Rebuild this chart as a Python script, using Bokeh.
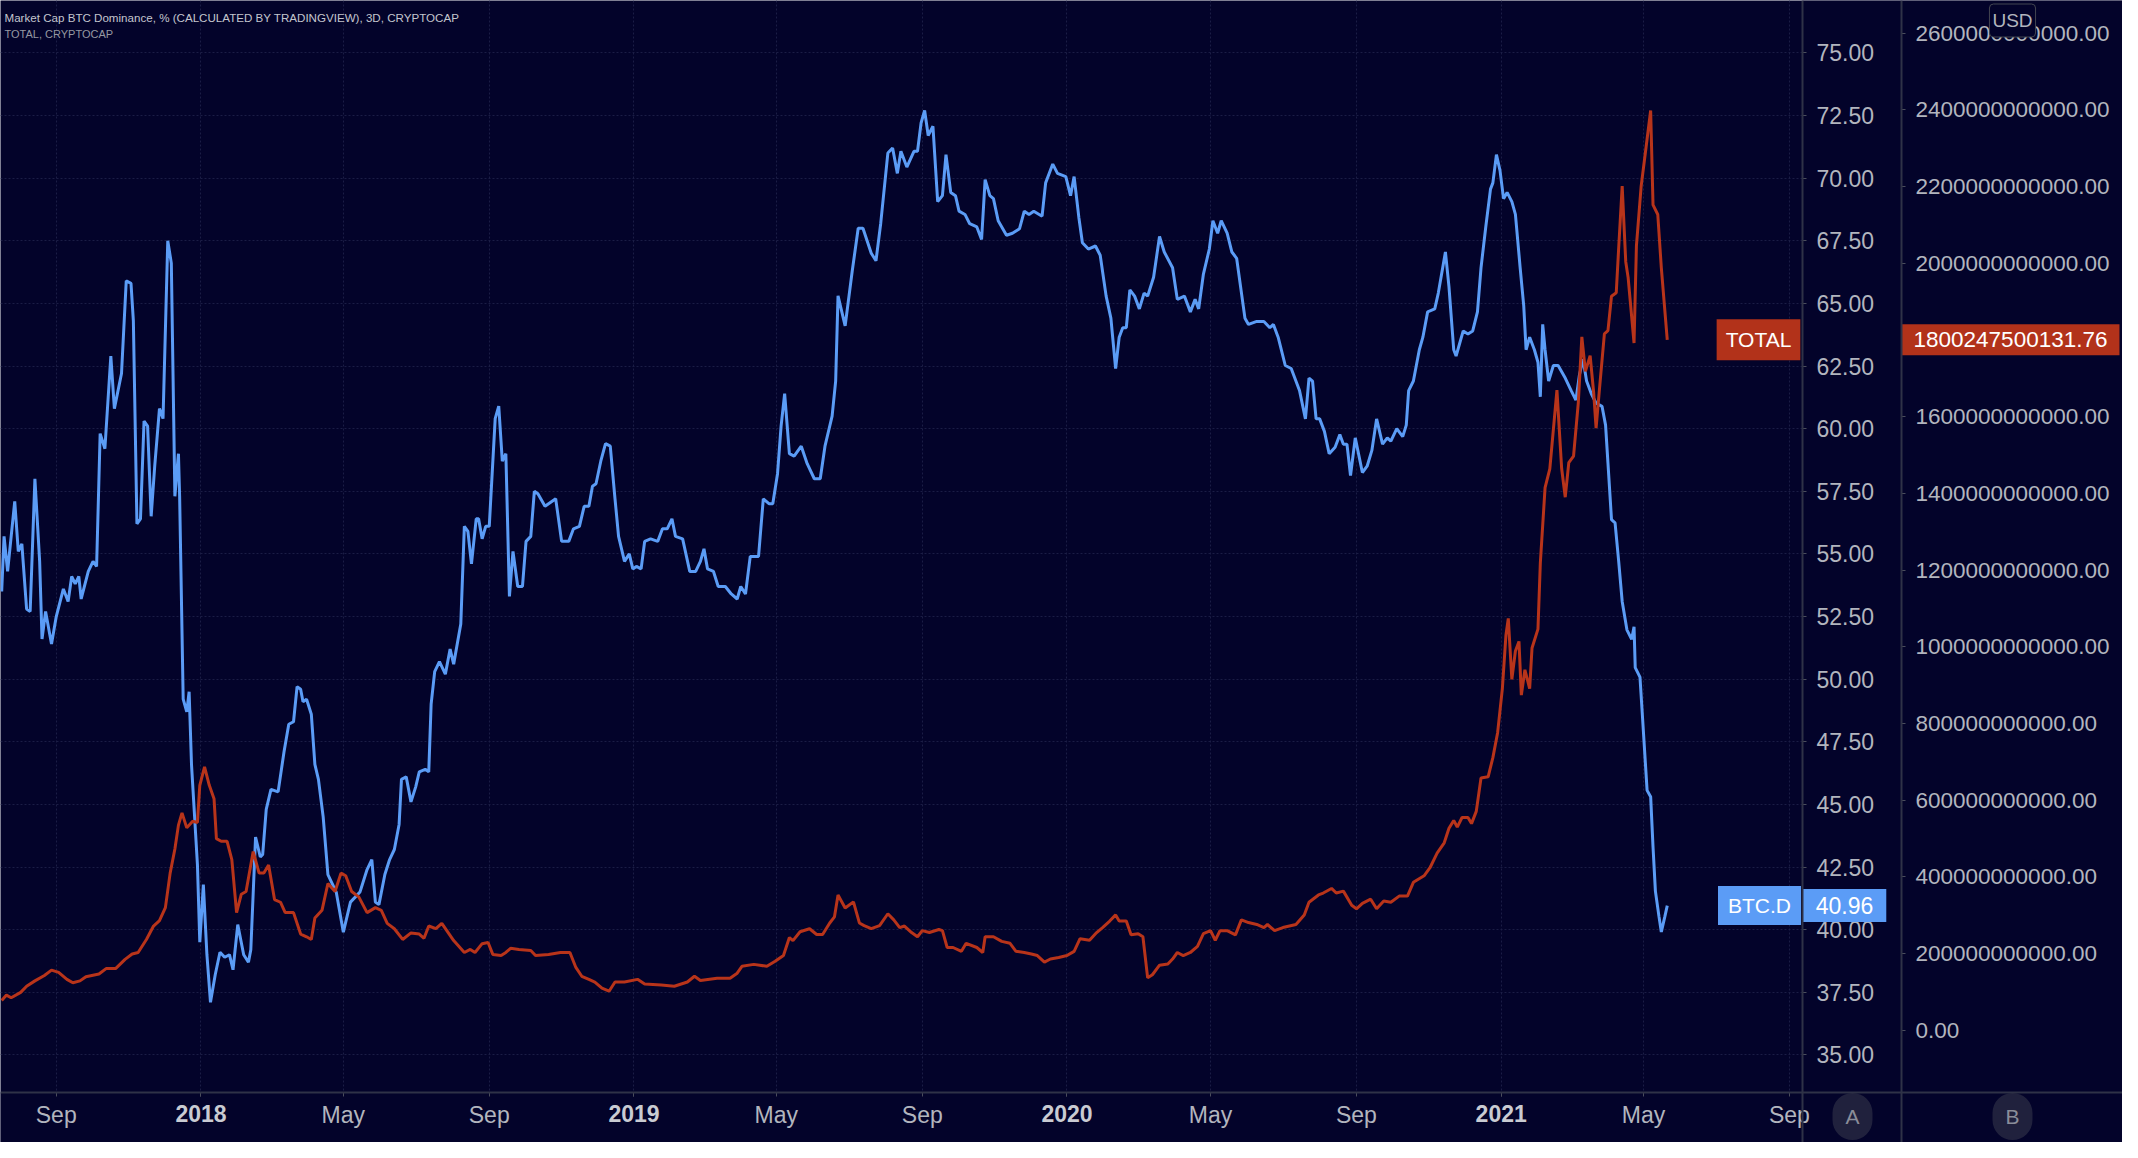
import pandas as pd
from bokeh.plotting import figure
from bokeh.models import (ColumnDataSource, Range1d, LinearAxis, DatetimeAxis, MonthsTicker, Span,
                          BoxAnnotation, SingleIntervalTicker, CustomJSTickFormatter, Label)
from bokeh.embed import file_html
from bokeh.resources import INLINE

# ---------------- data ----------------
TITLE_1 = "Market Cap BTC Dominance, % (CALCULATED BY TRADINGVIEW), 3D, CRYPTOCAP"
TITLE_2 = "TOTAL, CRYPTOCAP"
MONTH_LABELS = ["", "Feb", "Mar", "Apr", "May", "Jun",
                "Jul", "Aug", "Sep", "Oct", "Nov", "Dec"]

btc_dates = [
    "2017-07-17", "2017-07-19", "2017-07-22", "2017-07-28", "2017-07-31", "2017-08-03", "2017-08-07",
    "2017-08-10", "2017-08-14", "2017-08-18", "2017-08-20", "2017-08-23", "2017-08-28", "2017-09-01",
    "2017-09-07", "2017-09-11", "2017-09-14", "2017-09-17", "2017-09-20", "2017-09-22", "2017-09-28",
    "2017-10-02", "2017-10-05", "2017-10-08", "2017-10-12", "2017-10-17", "2017-10-20", "2017-10-26",
    "2017-10-30", "2017-11-03", "2017-11-05", "2017-11-08", "2017-11-11", "2017-11-14", "2017-11-17",
    "2017-11-20", "2017-11-23", "2017-11-27", "2017-11-30", "2017-12-04", "2017-12-07", "2017-12-10",
    "2017-12-13", "2017-12-14", "2017-12-17", "2017-12-20", "2017-12-22", "2017-12-24", "2017-12-29",
    "2017-12-31", "2018-01-03", "2018-01-06", "2018-01-09", "2018-01-13", "2018-01-17", "2018-01-21",
    "2018-01-25", "2018-01-28", "2018-02-01", "2018-02-06", "2018-02-10", "2018-02-12", "2018-02-16",
    "2018-02-20", "2018-02-22", "2018-02-25", "2018-03-01", "2018-03-07", "2018-03-12", "2018-03-16",
    "2018-03-20", "2018-03-23", "2018-03-26", "2018-03-28", "2018-03-31", "2018-04-04", "2018-04-07",
    "2018-04-10", "2018-04-14", "2018-04-18", "2018-04-21", "2018-04-25", "2018-05-01", "2018-05-07",
    "2018-05-11", "2018-05-15", "2018-05-21", "2018-05-25", "2018-05-28", "2018-05-31", "2018-06-05",
    "2018-06-09", "2018-06-13", "2018-06-17", "2018-06-19", "2018-06-23", "2018-06-27", "2018-07-01",
    "2018-07-04", "2018-07-09", "2018-07-12", "2018-07-14", "2018-07-17", "2018-07-21", "2018-07-26",
    "2018-07-30", "2018-08-02", "2018-08-08", "2018-08-11", "2018-08-14", "2018-08-17", "2018-08-21",
    "2018-08-23", "2018-08-26", "2018-08-29", "2018-09-01", "2018-09-06", "2018-09-09", "2018-09-12",
    "2018-09-15", "2018-09-18", "2018-09-21", "2018-09-25", "2018-09-29", "2018-10-02", "2018-10-06",
    "2018-10-09", "2018-10-12", "2018-10-18", "2018-10-27", "2018-11-01", "2018-11-07", "2018-11-11",
    "2018-11-16", "2018-11-20", "2018-11-24", "2018-11-27", "2018-11-30", "2018-12-04", "2018-12-08",
    "2018-12-12", "2018-12-16", "2018-12-19", "2018-12-24", "2018-12-28", "2018-12-31", "2019-01-03",
    "2019-01-07", "2019-01-10", "2019-01-15", "2019-01-21", "2019-01-25", "2019-01-29", "2019-02-02",
    "2019-02-05", "2019-02-11", "2019-02-17", "2019-02-22", "2019-02-26", "2019-03-01", "2019-03-04",
    "2019-03-09", "2019-03-13", "2019-03-19", "2019-03-24", "2019-03-29", "2019-04-01", "2019-04-05",
    "2019-04-09", "2019-04-16", "2019-04-20", "2019-04-25", "2019-04-28", "2019-05-02", "2019-05-05",
    "2019-05-08", "2019-05-12", "2019-05-16", "2019-05-22", "2019-05-27", "2019-06-02", "2019-06-07",
    "2019-06-11", "2019-06-17", "2019-06-20", "2019-06-22", "2019-06-28", "2019-07-04", "2019-07-09",
    "2019-07-13", "2019-07-20", "2019-07-24", "2019-07-28", "2019-08-03", "2019-08-07", "2019-08-11",
    "2019-08-14", "2019-08-19", "2019-08-25", "2019-08-28", "2019-08-31", "2019-09-03", "2019-09-06",
    "2019-09-10", "2019-09-14", "2019-09-18", "2019-09-21", "2019-09-25", "2019-09-29", "2019-10-02",
    "2019-10-07", "2019-10-11", "2019-10-17", "2019-10-21", "2019-10-24", "2019-10-28", "2019-10-31",
    "2019-11-04", "2019-11-11", "2019-11-16", "2019-11-22", "2019-11-26", "2019-11-30", "2019-12-04",
    "2019-12-11", "2019-12-14", "2019-12-20", "2019-12-24", "2019-12-31", "2020-01-04", "2020-01-07",
    "2020-01-11", "2020-01-14", "2020-01-19", "2020-01-25", "2020-01-29", "2020-02-03", "2020-02-07",
    "2020-02-11", "2020-02-14", "2020-02-17", "2020-02-20", "2020-02-23", "2020-02-27", "2020-03-02",
    "2020-03-06", "2020-03-09", "2020-03-14", "2020-03-19", "2020-03-23", "2020-03-30", "2020-04-03",
    "2020-04-09", "2020-04-14", "2020-04-18", "2020-04-21", "2020-04-25", "2020-04-30", "2020-05-03",
    "2020-05-07", "2020-05-10", "2020-05-15", "2020-05-19", "2020-05-23", "2020-05-30", "2020-06-02",
    "2020-06-09", "2020-06-15", "2020-06-20", "2020-06-23", "2020-06-27", "2020-07-03", "2020-07-08",
    "2020-07-15", "2020-07-20", "2020-07-23", "2020-07-26", "2020-07-29", "2020-08-01", "2020-08-05",
    "2020-08-09", "2020-08-14", "2020-08-18", "2020-08-21", "2020-08-24", "2020-08-27", "2020-08-31",
    "2020-09-06", "2020-09-10", "2020-09-14", "2020-09-18", "2020-09-23", "2020-09-27", "2020-09-30",
    "2020-10-05", "2020-10-10", "2020-10-13", "2020-10-15", "2020-10-19", "2020-10-24", "2020-10-27",
    "2020-10-31", "2020-11-06", "2020-11-09", "2020-11-15", "2020-11-18", "2020-11-22", "2020-11-24",
    "2020-11-30", "2020-12-04", "2020-12-08", "2020-12-12", "2020-12-15", "2020-12-19", "2020-12-23",
    "2020-12-25", "2020-12-28", "2020-12-31", "2021-01-03", "2021-01-06", "2021-01-10", "2021-01-13",
    "2021-01-17", "2021-01-20", "2021-01-22", "2021-01-25", "2021-01-29", "2021-02-01", "2021-02-03",
    "2021-02-05", "2021-02-07", "2021-02-10", "2021-02-14", "2021-02-18", "2021-02-24", "2021-03-01",
    "2021-03-05", "2021-03-08", "2021-03-11", "2021-03-14", "2021-03-18", "2021-03-22", "2021-03-27",
    "2021-03-30", "2021-04-01", "2021-04-04", "2021-04-07", "2021-04-10", "2021-04-13", "2021-04-17",
    "2021-04-21", "2021-04-23", "2021-04-24", "2021-04-28", "2021-04-30", "2021-05-04", "2021-05-07",
    "2021-05-09", "2021-05-11", "2021-05-14", "2021-05-16", "2021-05-19", "2021-05-21",
]
btc_values = [
    53.5, 55.7, 54.3, 57.1, 55.1, 55.4, 52.8,
    52.7, 58.0, 54.7, 51.6, 52.7, 51.4, 52.5,
    53.6, 53.1, 54.1, 53.8, 54.1, 53.2, 54.3,
    54.7, 54.5, 59.8, 59.2, 62.9, 60.8, 62.2,
    65.9, 65.8, 64.3, 56.2, 56.4, 60.3, 60.1,
    56.5, 58.5, 60.8, 60.4, 67.5, 66.6, 57.3,
    59.0, 57.3, 49.2, 48.7, 49.5, 46.6, 42.6,
    39.5, 41.8, 39.0, 37.1, 38.2, 39.1, 38.9,
    39.0, 38.4, 40.2, 39.0, 38.7, 39.2, 43.7,
    42.9, 43.0, 44.8, 45.6, 45.5, 47.1, 48.2,
    48.3, 49.7, 49.6, 49.1, 49.2, 48.6, 46.6,
    46.0, 44.5, 42.2, 41.9, 41.5, 39.9, 41.1,
    41.3, 41.5, 42.4, 42.8, 41.1, 41.0, 42.2,
    42.8, 43.2, 44.2, 46.0, 46.1, 45.1, 45.7,
    46.3, 46.4, 46.3, 49.0, 50.3, 50.7, 50.2,
    51.2, 50.6, 52.2, 56.1, 55.9, 54.6, 56.4,
    56.4, 55.6, 56.1, 56.1, 60.4, 60.9, 58.7,
    59.0, 53.3, 55.1, 53.7, 53.7, 55.5, 55.7,
    57.5, 57.4, 56.9, 57.2, 55.5, 55.5, 56.0,
    56.1, 56.9, 56.9, 57.7, 57.8, 58.7, 59.4,
    59.3, 57.2, 55.7, 54.7, 55.0, 54.4, 54.5,
    54.4, 55.5, 55.6, 55.5, 56.0, 56.0, 56.4,
    55.7, 55.6, 54.3, 54.3, 54.7, 55.2, 54.4,
    54.3, 53.7, 53.7, 53.4, 53.2, 53.7, 53.4,
    54.9, 54.9, 57.2, 57.0, 57.0, 58.2, 60.1,
    61.4, 59.0, 58.9, 59.3, 58.6, 58.0, 58.0,
    59.3, 60.5, 61.9, 65.3, 64.1, 66.3, 68.0,
    68.0, 67.0, 66.7, 68.2, 71.0, 71.2, 70.19,
    71.07, 70.44, 71.07, 71.07, 72.2, 72.7, 71.7,
    72.07, 69.06, 69.3, 70.94, 69.43, 69.3, 68.68,
    68.55, 68.18, 68.05, 67.55, 69.94, 69.3, 69.18,
    68.3, 67.72, 67.8, 67.98, 68.68, 68.55, 68.68,
    68.48, 69.81, 70.56, 70.19, 70.06, 69.3, 70.06,
    68.43, 67.42, 67.17, 67.29, 66.92, 65.29, 64.41,
    62.4, 63.65, 64.03, 64.03, 65.54, 65.29, 64.78,
    65.41, 65.29, 66.04, 67.67, 67.05, 66.42, 65.16,
    65.29, 64.66, 65.16, 64.78, 66.17, 67.17, 68.3,
    67.8, 68.3, 67.8, 67.05, 66.8, 64.41, 64.16,
    64.28, 64.28, 64.03, 64.16, 63.65, 62.52, 62.4,
    61.52, 60.39, 62.02, 61.9, 60.39, 60.39, 59.89,
    59.0, 59.26, 59.76, 59.38, 59.38, 58.13, 59.63,
    58.25, 58.5, 59.13, 60.39, 59.38, 59.63, 59.5,
    60.0, 59.68, 60.14, 61.52, 61.9, 63.15, 63.65,
    64.66, 64.78, 65.41, 67.05, 65.66, 63.15, 62.9,
    63.9, 63.78, 63.9, 64.66, 66.42, 68.05, 69.56,
    69.81, 70.94, 70.31, 69.18, 69.43, 69.06, 68.55,
    66.42, 64.91, 63.15, 63.65, 63.15, 62.65, 61.27,
    64.16, 63.15, 61.9, 62.52, 62.52, 62.02, 61.52,
    61.14, 62.15, 62.77, 61.9, 61.39, 61.02, 60.89,
    60.14, 58.63, 56.37, 56.24, 54.73, 53.1, 51.97,
    51.59, 52.09, 50.46, 50.08, 48.58, 45.56, 45.31,
    43.3, 41.54, 40.53, 39.91, 40.53, 40.96,
]

total_dates = [
    "2017-07-17", "2017-07-21", "2017-07-25", "2017-08-02", "2017-08-07", "2017-08-14", "2017-08-22",
    "2017-08-28", "2017-09-03", "2017-09-10", "2017-09-15", "2017-09-21", "2017-09-26", "2017-10-07",
    "2017-10-13", "2017-10-21", "2017-10-29", "2017-11-04", "2017-11-09", "2017-11-16", "2017-11-22",
    "2017-11-27", "2017-12-02", "2017-12-06", "2017-12-10", "2017-12-13", "2017-12-16", "2017-12-20",
    "2017-12-25", "2017-12-29", "2017-12-31", "2018-01-04", "2018-01-08", "2018-01-12", "2018-01-14",
    "2018-01-18", "2018-01-23", "2018-01-27", "2018-01-31", "2018-02-04", "2018-02-08", "2018-02-14",
    "2018-02-19", "2018-02-23", "2018-02-27", "2018-03-04", "2018-03-09", "2018-03-13", "2018-03-20",
    "2018-03-26", "2018-03-31", "2018-04-04", "2018-04-07", "2018-04-13", "2018-04-18", "2018-04-24",
    "2018-04-29", "2018-05-03", "2018-05-08", "2018-05-14", "2018-05-21", "2018-05-28", "2018-06-02",
    "2018-06-07", "2018-06-13", "2018-06-20", "2018-06-27", "2018-07-04", "2018-07-08", "2018-07-12",
    "2018-07-18", "2018-07-23", "2018-08-02", "2018-08-11", "2018-08-16", "2018-08-20", "2018-08-26",
    "2018-08-31", "2018-09-04", "2018-09-11", "2018-09-15", "2018-09-19", "2018-09-26", "2018-10-06",
    "2018-10-10", "2018-10-21", "2018-10-31", "2018-11-08", "2018-11-13", "2018-11-18", "2018-11-24",
    "2018-11-29", "2018-12-05", "2018-12-11", "2018-12-16", "2018-12-24", "2019-01-04", "2019-01-10",
    "2019-01-24", "2019-02-04", "2019-02-15", "2019-02-21", "2019-02-26", "2019-03-12", "2019-03-23",
    "2019-03-29", "2019-04-02", "2019-04-12", "2019-04-23", "2019-04-30", "2019-05-07", "2019-05-12",
    "2019-05-15", "2019-05-21", "2019-05-29", "2019-06-04", "2019-06-09", "2019-06-15", "2019-06-19",
    "2019-06-22", "2019-06-28", "2019-07-05", "2019-07-10", "2019-07-14", "2019-07-20", "2019-07-27",
    "2019-08-03", "2019-08-08", "2019-08-13", "2019-08-17", "2019-08-23", "2019-08-28", "2019-09-01",
    "2019-09-07", "2019-09-15", "2019-09-18", "2019-09-22", "2019-09-27", "2019-10-04", "2019-10-08",
    "2019-10-17", "2019-10-22", "2019-10-24", "2019-10-31", "2019-11-07", "2019-11-14", "2019-11-19",
    "2019-11-26", "2019-12-02", "2019-12-07", "2019-12-13", "2019-12-18", "2019-12-25", "2020-01-01",
    "2020-01-07", "2020-01-12", "2020-01-20", "2020-01-26", "2020-01-31", "2020-02-06", "2020-02-11",
    "2020-02-14", "2020-02-20", "2020-02-24", "2020-03-01", "2020-03-05", "2020-03-09", "2020-03-13",
    "2020-03-19", "2020-03-26", "2020-03-30", "2020-04-03", "2020-04-08", "2020-04-14", "2020-04-20",
    "2020-04-25", "2020-05-01", "2020-05-05", "2020-05-09", "2020-05-15", "2020-05-22", "2020-05-27",
    "2020-06-02", "2020-06-09", "2020-06-15", "2020-06-18", "2020-06-24", "2020-07-01", "2020-07-12",
    "2020-07-19", "2020-07-23", "2020-07-31", "2020-08-04", "2020-08-11", "2020-08-15", "2020-08-21",
    "2020-08-28", "2020-09-01", "2020-09-06", "2020-09-13", "2020-09-18", "2020-09-24", "2020-09-30",
    "2020-10-07", "2020-10-14", "2020-10-19", "2020-10-28", "2020-11-02", "2020-11-08", "2020-11-14",
    "2020-11-18", "2020-11-22", "2020-11-25", "2020-11-29", "2020-12-04", "2020-12-07", "2020-12-11",
    "2020-12-15", "2020-12-21", "2020-12-25", "2020-12-29", "2021-01-02", "2021-01-05", "2021-01-07",
    "2021-01-10", "2021-01-13", "2021-01-16", "2021-01-18", "2021-01-21", "2021-01-25", "2021-01-27",
    "2021-02-01", "2021-02-03", "2021-02-07", "2021-02-11", "2021-02-17", "2021-02-21", "2021-02-24",
    "2021-02-27", "2021-03-03", "2021-03-07", "2021-03-10", "2021-03-13", "2021-03-17", "2021-03-20",
    "2021-03-22", "2021-03-25", "2021-03-29", "2021-04-01", "2021-04-04", "2021-04-08", "2021-04-10",
    "2021-04-13", "2021-04-16", "2021-04-18", "2021-04-23", "2021-04-25", "2021-04-29", "2021-05-03",
    "2021-05-07", "2021-05-09", "2021-05-13", "2021-05-16", "2021-05-21",
]
# billions of USD
total_values_bn = [
    78, 92, 85, 99, 115, 129, 143,
    157, 151, 133, 124, 129, 140, 147,
    161, 161, 185, 199, 203, 237, 272,
    286, 320, 410, 473, 535, 567, 528,
    545, 542, 639, 687, 639, 604, 500,
    493, 493, 445, 307, 355, 362, 466,
    410, 410, 431, 341, 334, 307, 307,
    251, 244, 237, 293, 313, 383, 362,
    410, 403, 362, 348, 307, 320, 313,
    279, 265, 237, 254, 251, 240, 272,
    265, 279, 234, 203, 211, 203, 226,
    229, 198, 195, 203, 214, 211, 208,
    195, 198, 203, 203, 164, 141, 133,
    126, 110, 102, 126, 126, 133, 121,
    118, 115, 126, 141, 130, 136, 136,
    149, 167, 172, 167, 180, 195, 242,
    234, 257, 265, 250, 250, 280, 296,
    353, 319, 335, 280, 273, 265, 273,
    304, 288, 268, 272, 255, 244, 260,
    255, 263, 260, 216, 216, 206, 227,
    216, 203, 244, 244, 232, 227, 206,
    203, 199, 195, 178, 186, 190, 195,
    206, 239, 235, 255, 268, 285, 301,
    285, 285, 249, 252, 244, 137, 145,
    170, 173, 186, 203, 195, 203, 219,
    252, 260, 235, 260, 260, 249, 288,
    281, 276, 268, 276, 260, 268, 276,
    301, 334, 353, 358, 370, 358, 363,
    326, 317, 331, 342, 317, 337, 334,
    350, 350, 386, 403, 424, 462, 489,
    527, 547, 530, 555, 555, 539, 571,
    658, 661, 711, 776, 891, 1030, 1074,
    915, 989, 1014, 874, 940, 891, 997,
    1046, 1218, 1415, 1464, 1669, 1464, 1390,
    1480, 1497, 1636, 1808, 1718, 1759, 1661,
    1570, 1677, 1816, 1824, 1914, 1923, 2037,
    2201, 2004, 1963, 1792, 2045, 2201, 2299,
    2398, 2152, 2127, 1988, 1800.2475,
]

BTC_LAST = "40.96"
TOTAL_LAST = "1800247500131.76"

# ---------------- styling / layout ----------------
BG = "#03032a"
BLUE = "#5b9cf6"
RED = "#b8341a"
RED_TAG = "#b2321a"
TXT = "#b2b5be"
SEP = "#2f3247"
GRID = "#1b1d45"
FONT = "Liberation Sans"

W, H = 2122, 1142        # whole canvas (= frame)
PW, PH = 1802, 1092      # price-pane part of it
AW = 99                  # width of the BTC.D scale column

# visible windows of the chart
X_START = pd.Timestamp("2017-07-16").value / 1e6
X_PANE_END = pd.Timestamp("2021-09-12").value / 1e6
BTC_TOP, BTC_BOT = 77.09, 33.50
TOT_TOP, TOT_BOT = 2684.9e9, -162e9

ms_px = (X_PANE_END - X_START) / PW
x_end = X_START + ms_px * W
x_scale_b = X_START + ms_px * (PW + AW)
btc_bottom = BTC_BOT - (BTC_TOP - BTC_BOT) / PH * (H - PH)
tot_bottom = TOT_BOT - (TOT_TOP - TOT_BOT) / PH * (H - PH)

btc_src = ColumnDataSource(dict(x=pd.to_datetime(btc_dates), y=btc_values))
tot_src = ColumnDataSource(dict(x=pd.to_datetime(total_dates),
                                y=[v * 1e9 for v in total_values_bn]))

p = figure(frame_width=W, frame_height=H, x_axis_type="datetime",
           y_axis_location="right",
           x_range=Range1d(X_START, x_end), y_range=Range1d(btc_bottom, BTC_TOP),
           output_backend="svg", toolbar_location=None, tools="",
           background_fill_color=BG, border_fill_color=BG,
           min_border_left=0, min_border_top=0, min_border_right=0, min_border_bottom=0,
           outline_line_color=None)
p.extra_y_ranges = {"total": Range1d(tot_bottom, TOT_TOP)}

two_dec = CustomJSTickFormatter(code="return tick.toFixed(2)")

ya = p.yaxis[0]
ya.ticker = SingleIntervalTicker(interval=2.5)
ya.formatter = two_dec
ya.fixed_location = X_PANE_END
ya.bounds = (BTC_BOT, BTC_TOP)

yb = LinearAxis(y_range_name="total", ticker=SingleIntervalTicker(interval=2e11),
                formatter=two_dec, fixed_location=x_scale_b, bounds=(TOT_BOT, TOT_TOP))
p.add_layout(yb, "right")

# month labels (regular) and year labels (bold) share the same time axis line
month_ticker = MonthsTicker(months=[0, 4, 8])
xa = p.xaxis[0]
xa.ticker = month_ticker
xa.fixed_location = BTC_BOT
xa.bounds = (X_START, X_PANE_END)
xa.formatter = CustomJSTickFormatter(args=dict(names=MONTH_LABELS), code="""
    return names[new Date(tick).getUTCMonth()];
""")
xy = DatetimeAxis(ticker=MonthsTicker(months=[0]), fixed_location=BTC_BOT,
                  bounds=(X_START, X_PANE_END),
                  formatter=CustomJSTickFormatter(code="return String(new Date(tick).getUTCFullYear());"))
p.add_layout(xy, "below")

for ax, fs in ((ya, "23px"), (yb, "22.5px"), (xa, "23px"), (xy, "23px")):
    ax.axis_line_color = None
    ax.major_tick_line_color = "#4a4d5c"
    ax.major_tick_out = 4
    ax.major_tick_in = 0
    ax.minor_tick_line_color = None
    ax.major_label_text_color = TXT
    ax.major_label_text_font = FONT
    ax.major_label_text_font_size = fs
    ax.major_label_standoff = 10
xa.major_label_standoff = 5
xy.major_label_standoff = 8
xy.major_label_text_font_style = "bold"
xy.major_label_text_color = "#c9cbd2"

for g in (p.xgrid, p.ygrid):
    g.grid_line_color = GRID
    g.grid_line_dash = "2 2"
    g.grid_line_width = 1

# scale columns and time strip are plain background (hide grid there)
p.add_layout(BoxAnnotation(left=X_PANE_END, fill_color=BG, fill_alpha=1,
                           line_color=None, level="underlay"))
p.add_layout(BoxAnnotation(top=BTC_BOT, fill_color=BG, fill_alpha=1,
                           line_color=None, level="underlay"))

p.line("x", "y", source=btc_src, line_color=BLUE, line_width=3)
p.line("x", "y", source=tot_src, line_color=RED, line_width=3, y_range_name="total")

# ---------------- texts & tags ----------------
p.add_layout(Label(x=4, y=H - 17, x_units="screen", y_units="screen", text=TITLE_1,
                   text_font=FONT, text_font_size="11.6px", text_color="#c3c6ce",
                   text_baseline="middle"))
p.add_layout(Label(x=4, y=H - 33.5, x_units="screen", y_units="screen", text=TITLE_2,
                   text_font=FONT, text_font_size="11px", text_color="#9598a1",
                   text_baseline="middle"))

# padding = (horizontal, vertical)
def tag(x, y, text, bg, size, pad, y_range_name="default"):
    p.add_layout(Label(x=x, y=y, x_units="screen", y_units="data", y_range_name=y_range_name,
                       text=text, text_font=FONT, text_font_size=size,
                       text_color="white", text_align="center", text_baseline="middle",
                       background_fill_color=bg, padding=pad))

tag(PW - 44, float(TOTAL_LAST), "TOTAL", RED_TAG, "21px", (9, 9), "total")
tag(PW + AW + 109, float(TOTAL_LAST), TOTAL_LAST, RED_TAG, "22.5px", (12, 8), "total")
tag(PW - 43, float(BTC_LAST), "BTC.D", BLUE, "21px", (10, 8), "default")
tag(PW + 42, float(BTC_LAST), BTC_LAST, BLUE, "23px", (13, 8), "default")

p.add_layout(Label(x=PW + AW + 111, y=H - 20, x_units="screen", y_units="screen", text="USD",
                   text_font=FONT, text_font_size="19px", text_color=TXT,
                   text_align="center", text_baseline="middle", background_fill_color=BG,
                   border_line_color="#434651", border_radius=4, padding=(3, 6)))

for cx, letter in ((PW + 50, "A"), (PW + AW + 111, "B")):
    p.add_layout(Label(x=cx, y=H - PH - 24, x_units="screen", y_units="screen", text=letter,
                       text_font=FONT, text_font_size="21px", text_color="#8a8d99",
                       text_align="center", text_baseline="middle",
                       background_fill_color="#20213d", border_radius=20, padding=(13, 12)))

# pane / scale separators
for loc in (X_PANE_END, x_scale_b):
    p.add_layout(Span(location=loc, dimension="height", line_color=SEP, line_width=2))
p.add_layout(Span(location=BTC_BOT, dimension="width", line_color=SEP, line_width=2))

open("out.html", "w").write(file_html(p, INLINE))
